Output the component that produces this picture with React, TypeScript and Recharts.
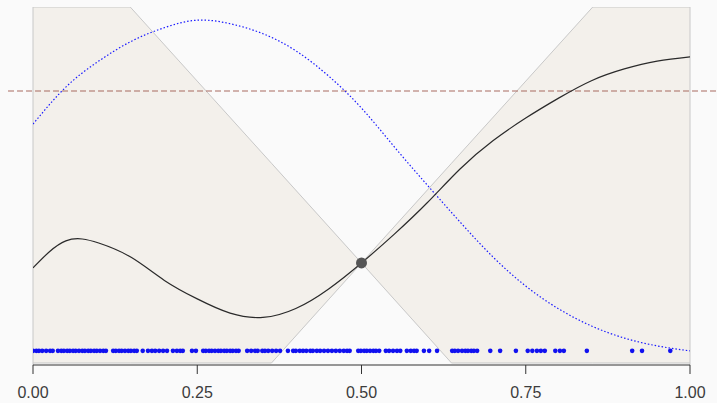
import {
  ComposedChart,
  XAxis,
  YAxis,
  Area,
  Line,
  Scatter,
  ReferenceLine,
  ReferenceDot,
} from 'recharts';

// x positions where the two curves were sampled
const curveX = [
  0, 0.05, 0.1, 0.15, 0.2, 0.25, 0.3, 0.35, 0.4, 0.45, 0.5, 0.55, 0.6, 0.65, 0.7, 0.75, 0.8,
  0.85, 0.9, 0.95, 1,
];
const blackCurve = [
  0.267, 0.343, 0.337, 0.296, 0.232, 0.18, 0.14, 0.128, 0.153, 0.208, 0.281, 0.362, 0.45,
  0.545, 0.624, 0.688, 0.744, 0.793, 0.826, 0.848, 0.86,
];
const blueCurve = [
  0.671, 0.775, 0.848, 0.904, 0.942, 0.963, 0.953, 0.925, 0.877, 0.806, 0.716, 0.607, 0.5,
  0.396, 0.298, 0.216, 0.152, 0.104, 0.07, 0.048, 0.034,
];

// shaded band (two wedges meeting at the crossing point)
const bandX = [0, 0.148, 0.363, 0.5, 0.637, 0.852, 1];
const bandLow = [0, 0, 0, 0.281, 0, 0, 0];
const bandHigh = [1, 1, 0.561, 0.281, 0.561, 1, 1];

// rug of observations along the bottom
const rugX = [
  0.0, 0.005, 0.009, 0.014, 0.02, 0.026, 0.03, 0.038, 0.043, 0.047, 0.052, 0.056, 0.061, 0.065,
  0.07, 0.075, 0.079, 0.084, 0.088, 0.093, 0.097, 0.102, 0.107, 0.111, 0.122, 0.126, 0.131,
  0.135, 0.14, 0.145, 0.149, 0.154, 0.158, 0.167, 0.175, 0.181, 0.186, 0.192, 0.198, 0.204,
  0.213, 0.219, 0.224, 0.228, 0.242, 0.248, 0.259, 0.263, 0.268, 0.272, 0.277, 0.282, 0.286,
  0.291, 0.295, 0.3, 0.304, 0.309, 0.313, 0.326, 0.332, 0.338, 0.342, 0.349, 0.353, 0.358,
  0.364, 0.37, 0.376, 0.388, 0.396, 0.4, 0.406, 0.411, 0.416, 0.422, 0.426, 0.432, 0.437,
  0.443, 0.449, 0.455, 0.461, 0.467, 0.473, 0.478, 0.482, 0.495, 0.499, 0.504, 0.508, 0.513,
  0.518, 0.522, 0.527, 0.537, 0.542, 0.548, 0.554, 0.559, 0.569, 0.575, 0.58, 0.584, 0.595,
  0.603, 0.615, 0.638, 0.642, 0.647, 0.653, 0.658, 0.662, 0.667, 0.671, 0.676, 0.696, 0.711,
  0.735, 0.753, 0.76, 0.767, 0.773, 0.779, 0.795, 0.802, 0.808, 0.843, 0.912, 0.927, 0.97,
];
const rugLevel = 0.034;

const threshold = 0.764;
const crossing = { x: 0.5, y: 0.281 };
const xTicks = [0, 0.25, 0.5, 0.75, 1];

const bandData = bandX.map((x, i) => ({ x, range: [bandLow[i], bandHigh[i]] }));
const blackData = curveX.map((x, i) => ({ x, y: blackCurve[i] }));
const blueData = curveX.map((x, i) => ({ x, y: blueCurve[i] }));
const rugData = rugX.map((x) => ({ x, y: rugLevel }));

const RugDot = (props: any) => <circle cx={props.cx} cy={props.cy} r={2.3} fill="#1010f0" />;

export default function App() {
  return (
    <div
      style={{
        position: 'fixed',
        left: 0,
        top: 0,
        width: 717,
        height: 403,
        background: '#fafafa',
        fontFamily: '"Liberation Sans", Arial, sans-serif',
      }}
    >
      <ComposedChart width={717} height={403} margin={{ top: 7, right: 27, left: 33, bottom: 0 }}>
        <XAxis
          dataKey="x"
          type="number"
          domain={[0, 1]}
          ticks={xTicks}
          interval={0}
          allowDataOverflow
          tickFormatter={(v: number) => v.toFixed(2)}
          tickSize={9}
          tickMargin={13}
          height={38}
          stroke="#333"
          tick={{ fill: '#3c3c3c', fontSize: 16 }}
        />
        <YAxis type="number" domain={[-0.0057, 1]} allowDataOverflow hide />
        <Area
          data={bandData}
          dataKey="range"
          type="linear"
          fill="#f3f0eb"
          fillOpacity={1}
          stroke="#c8c8c8"
          strokeWidth={1}
          isAnimationActive={false}
        />
        <ReferenceLine x={0} stroke="#c8c8c8" />
        <ReferenceLine x={1} stroke="#c8c8c8" />
        <ReferenceLine
          segment={[
            { x: -0.038, y: threshold },
            { x: 1.041, y: threshold },
          ]}
          ifOverflow="visible"
          stroke="#a86a60"
          strokeWidth={1.2}
          strokeDasharray="6 3"
        />
        <Line
          data={blueData}
          dataKey="y"
          type="natural"
          stroke="#1a1aff"
          strokeWidth={1.2}
          strokeDasharray="1.5 2"
          dot={false}
          isAnimationActive={false}
        />
        <Line
          data={blackData}
          dataKey="y"
          type="natural"
          stroke="#2a2a2a"
          strokeWidth={1.2}
          dot={false}
          isAnimationActive={false}
        />
        <Scatter data={rugData} dataKey="y" shape={RugDot} isAnimationActive={false} />
        <ReferenceDot x={crossing.x} y={crossing.y} r={5.5} fill="#555555" stroke="none" />
      </ComposedChart>
    </div>
  );
}
